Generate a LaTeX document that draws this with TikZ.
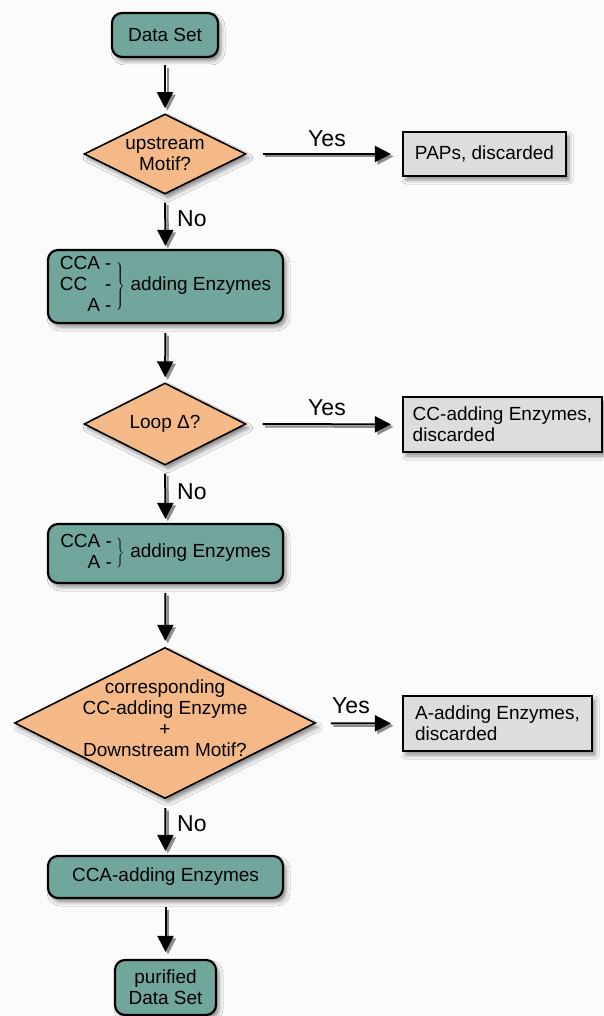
\documentclass[tikz,border=0pt]{standalone}
\usepackage{fontspec}
\setmainfont{Liberation Sans}
\usetikzlibrary{shapes.geometric,arrows.meta,shadows.blur}
\definecolor{tealfill}{RGB}{112,166,155}
\definecolor{orngfill}{RGB}{245,185,135}
\definecolor{greyfill}{RGB}{220,221,223}
\definecolor{bgfill}{RGB}{251,251,251}
\begin{document}
\begin{tikzpicture}[x=1pt,y=-1pt,
  font=\fontsize{19}{21}\selectfont,
  shad/.style={blur shadow={shadow xshift=3pt,shadow yshift=-4pt,shadow blur radius=4pt,shadow opacity=45}},
  tealbox/.style={draw=black,line width=2.2pt,fill=tealfill,rounded corners=10pt,shad,inner sep=0pt,align=center},
  decision/.style={diamond,draw=black,line width=1.6pt,fill=orngfill,shad,inner sep=0pt},
  greybox/.style={draw=black,line width=2.2pt,fill=greyfill,shad,inner sep=0pt,align=left},
  dtext/.style={align=center,inner sep=0pt},
  arr/.style={line width=2pt,-{Triangle[length=16pt,width=16pt]}},
  arrshadow/.style={arr,draw=black!45},
  lab/.style={font=\fontsize{23}{26}\selectfont,inner sep=0pt},
  s1/.style={shorten <=7pt,shorten >=5pt},
  s2/.style={shorten <=8pt,shorten >=3pt},
  s3/.style={shorten <=9pt,shorten >=5pt},
  s4/.style={shorten <=8pt,shorten >=4pt},
  s5/.style={shorten <=9pt,shorten >=6pt},
  s6/.style={shorten <=9pt,shorten >=4pt},
  s7/.style={shorten <=8pt,shorten >=7pt},
  h1/.style={shorten <=16pt,shorten >=11pt},
  h3/.style={shorten <=15pt,shorten >=11pt}]
\path[fill=bgfill] (0,0) rectangle (603,1016);
\useasboundingbox (0,0) rectangle (603,1016);

% main column
\node[tealbox,minimum width=106pt,minimum height=44pt] (ds) at (165,35) {Data Set};
\node[decision,minimum width=162pt,minimum height=80pt] (d1) at (165,154) {};
\node[dtext] (d1t) at (165,154) {upstream\\Motif?};
\node[tealbox,minimum width=235pt,minimum height=73pt] (b2) at (165.5,286.5)
  {\begin{tabular}{@{}l@{ }l@{}}CCA&-\\CC&-\\\hfill A&-\end{tabular}\kern3pt$\left.\vphantom{\rule{0pt}{30pt}}\right\}$\kern6pt adding Enzymes};
\node[decision,minimum width=162pt,minimum height=82pt] (d2) at (165,424) {};
\node[dtext] (d2t) at (165,424) {Loop Δ?};
\node[tealbox,minimum width=235pt,minimum height=59pt] (b3) at (165.5,553.5)
  {\begin{tabular}{@{}l@{ }l@{}}CCA&-\\\hfill A&-\end{tabular}\kern3pt$\left.\vphantom{\rule{0pt}{20pt}}\right\}$\kern6pt adding Enzymes};
\node[decision,minimum width=301pt,minimum height=151pt] (d3) at (165,723) {};
\node[dtext] (d3t) at (165,718) {corresponding\\CC-adding Enzyme\\+\\Downstream Motif?};
\node[tealbox,minimum width=235pt,minimum height=42pt] (b4) at (165.5,877) {CCA-adding Enzymes};
\node[tealbox,minimum width=101pt,minimum height=55pt] (b5) at (165.5,987.5) {purified\\Data Set};

% discarded boxes
\node[greybox,minimum width=163pt,minimum height=44pt] (p1) at (484.5,154) {PAPs, discarded};
\node[greybox,minimum width=199pt,minimum height=55pt] (p2) at (502.5,424.5) {CC-adding Enzymes,\\discarded};
\node[greybox,minimum width=189pt,minimum height=55pt] (p3) at (497.5,723.5) {A-adding Enzymes,\\discarded};

% arrow shadows
\begin{scope}[transform canvas={shift={(2.5pt,-2.5pt)}}]
\draw[arrshadow,s1] (ds) -- (d1);
\draw[arrshadow,s2] (d1) -- (b2);
\draw[arrshadow,s3] (b2) -- (d2);
\draw[arrshadow,s4] (d2) -- (b3);
\draw[arrshadow,s5] (b3) -- (d3);
\draw[arrshadow,s6] (d3) -- (b4);
\draw[arrshadow,s7] (b4) -- (b5);
\draw[arrshadow,h1] (d1) -- (p1);
\draw[arrshadow,h1] (d2) -- (p2);
\draw[arrshadow,h3] (d3) -- (p3);
\end{scope}

% vertical arrows
\draw[arr,s1] (ds) -- (d1);
\draw[arr,s2] (d1) -- (b2);
\draw[arr,s3] (b2) -- (d2);
\draw[arr,s4] (d2) -- (b3);
\draw[arr,s5] (b3) -- (d3);
\draw[arr,s6] (d3) -- (b4);
\draw[arr,s7] (b4) -- (b5);

% horizontal arrows
\draw[arr,h1] (d1) -- (p1);
\draw[arr,h1] (d2) -- (p2);
\draw[arr,h3] (d3) -- (p3);

% labels
\node[lab] (y1) at (327,139) {Yes};
\node[lab] (y2) at (327,408) {Yes};
\node[lab] (y3) at (351,706) {Yes};
\node[lab,anchor=west] (n1) at (177,219) {No};
\node[lab,anchor=west] (n2) at (177,492) {No};
\node[lab,anchor=west] (n3) at (177,824) {No};
\end{tikzpicture}
\end{document}
